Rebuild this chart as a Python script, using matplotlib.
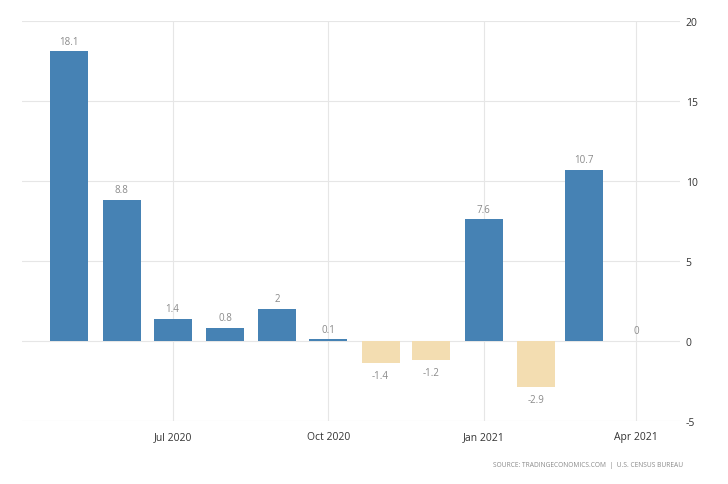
import datetime as dt

import numpy as np
import matplotlib
matplotlib.use("Agg")
import matplotlib.pyplot as plt
import matplotlib.dates as mdates

plt.rcParams['font.family'] = ['Open Sans', 'DejaVu Sans']

# monthly values, May 2020 .. Apr 2021
months = ["2020-05", "2020-06", "2020-07", "2020-08", "2020-09", "2020-10",
          "2020-11", "2020-12", "2021-01", "2021-02", "2021-03", "2021-04"]
values = [18.1, 8.8, 1.4, 0.8, 2, 0.1, -1.4, -1.2, 7.6, -2.9, 10.7, 0]
value_labels = ["18.1", "8.8", "1.4", "0.8", "2", "0.1", "-1.4", "-1.2", "7.6", "-2.9", "10.7", "0"]
tick_months = ["2020-07", "2020-10", "2021-01", "2021-04"]
tick_labels = ["Jul 2020", "Oct 2020", "Jan 2021", "Apr 2021"]
y_ticks = [-5, 0, 5, 10, 15, 20]

dates = [dt.datetime.strptime(m, "%Y-%m") for m in months]
tick_dates = [dt.datetime.strptime(m, "%Y-%m") for m in tick_months]

pos_color = "#4682b4"
neg_color = "#f3ddb1"
colors = [pos_color if v >= 0 else neg_color for v in values]

fig = plt.figure(figsize=(7.28, 4.85), dpi=100)
ax = fig.add_axes([22 / 728, 1 - 422 / 485, 658 / 728, 400 / 485])

x = mdates.date2num(dates)
ax.bar(x, values, width=22.5, color=colors, zorder=3)

for xi, v, lab in zip(x, values, value_labels):
    if v >= 0:
        ax.annotate(lab, (xi, v), xytext=(0, 3.5), textcoords="offset points",
                    ha="center", va="bottom", fontsize=7, color="#8a8a8a")
    else:
        ax.annotate(lab, (xi, v), xytext=(0, -5), textcoords="offset points",
                    ha="center", va="top", fontsize=7, color="#8a8a8a")

ax.set_xlim(mdates.date2num(dt.datetime(2020, 4, 3)), mdates.date2num(dt.datetime(2021, 4, 27)))
ax.set_ylim(-5, 20)

ax.set_xticks(mdates.date2num(tick_dates))
ax.set_xticklabels(tick_labels, fontsize=7.5, color="#333333")
ax.set_yticks(y_ticks)
ax.set_yticklabels([str(t) for t in y_ticks], fontsize=7.5, color="#333333")
ax.yaxis.tick_right()
ax.tick_params(axis="both", length=0)
ax.tick_params(axis="y", pad=4)
ax.tick_params(axis="x", pad=7)

ax.grid(True, color="#e6e6e6", linewidth=0.8, zorder=0)
for s in ax.spines.values():
    s.set_visible(False)

fig.text(683 / 728, 1 - 466 / 485, "SOURCE: TRADINGECONOMICS.COM  |  U.S. CENSUS BUREAU",
         ha="right", va="center", fontsize=4.8, color="#8a8a8a")

fig.savefig("out.png", dpi=100)
